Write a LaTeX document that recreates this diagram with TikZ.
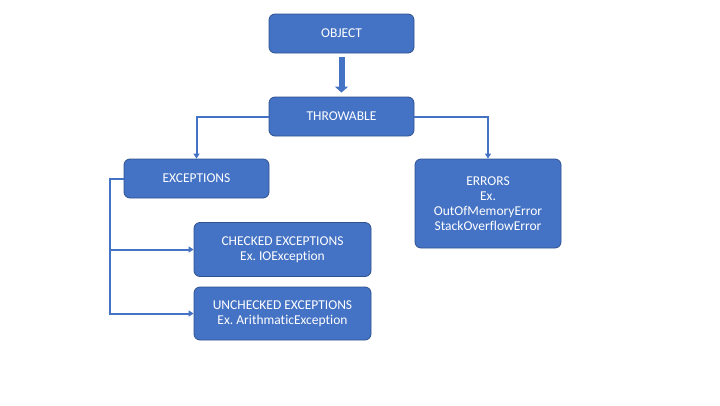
\documentclass[tikz,border=0pt]{standalone}
\usepackage{fontspec}
\setmainfont{Carlito}[Ligatures={NoCommon}]
\frenchspacing
\usetikzlibrary{arrows.meta}
\definecolor{boxblue}{HTML}{4472C4}
\definecolor{boxedge}{HTML}{2F528F}
\tikzset{
  box/.style={draw=boxedge, line width=0.8pt, fill=boxblue, rounded corners=6pt,
    text=white, align=center, font=\fontsize{13.5}{15}\selectfont, inner sep=0pt},
  conn/.style={draw=boxblue, line width=2pt, -{Triangle[width=6pt,length=5pt]}},
  fat/.style={draw=boxblue, line width=6pt, -{Triangle[width=13pt,length=6pt]}}
}
\begin{document}
\begin{tikzpicture}[x=1pt,y=-1pt]
\useasboundingbox (0,0) rectangle (720,405);
\node[box, minimum width=145pt, minimum height=39pt] (obj) at (341.5,33.5) {OBJECT};
\node[box, minimum width=145pt, minimum height=39pt] (thr) at (341.5,116.5) {THROWABLE};
\node[box, minimum width=145pt, minimum height=39pt] (exc) at (196.5,178.5) {EXCEPTIONS};
\node[box, minimum width=177pt, minimum height=54pt] (chk) at (282.5,249.5) {CHECKED EXCEPTIONS\\Ex. IOException};
\node[box, minimum width=177pt, minimum height=53pt] (unc) at (282.5,313.5) {UNCHECKED EXCEPTIONS\\Ex. ArithmaticException};
\node[box, minimum width=146pt, minimum height=89pt] (err) at (488,203.5) {ERRORS\\Ex.\\OutOfMemoryError\\StackOverflowError};
\coordinate (bus) at (110,178.5);
\draw[fat] ([yshift=-4pt]obj.south) -- ([yshift=4pt]thr.north);
\draw[conn] (thr.west) -| (exc.north);
\draw[conn] (thr.east) -| (err.north);
\draw[conn] (exc.west) -- (bus) |- (chk.west);
\draw[conn] (bus) |- (unc.west);
\end{tikzpicture}
\end{document}
